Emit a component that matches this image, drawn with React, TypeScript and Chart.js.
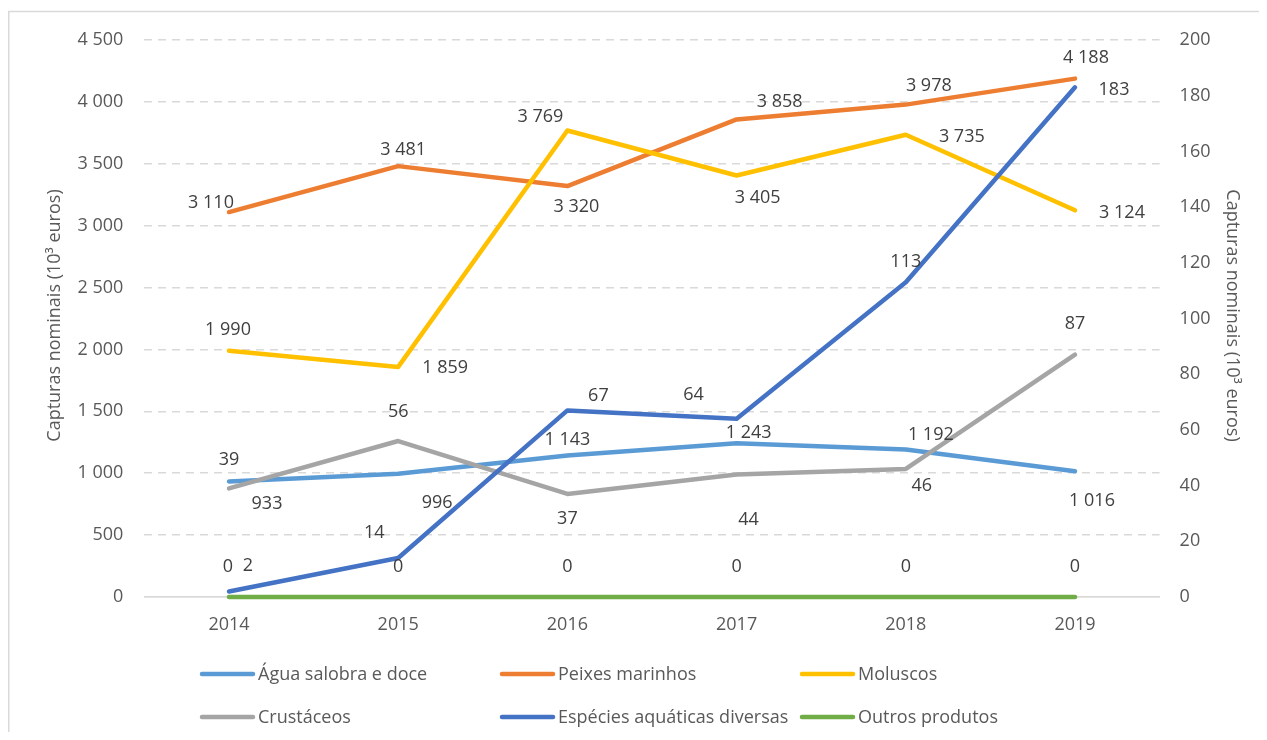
import React, { useEffect, useRef } from "react";
import { Chart, registerables } from "chart.js";

Chart.register(...registerables);

// ---- Data ----
const years = ["2014", "2015", "2016", "2017", "2018", "2019"];
const aguaSalobra = [933, 996, 1143, 1243, 1192, 1016];
const peixesMarinhos = [3110, 3481, 3320, 3858, 3978, 4188];
const moluscos = [1990, 1859, 3769, 3405, 3735, 3124];
const crustaceos = [39, 56, 37, 44, 46, 87];
const especiesDiversas = [2, 14, 67, 64, 113, 183];
const outrosProdutos = [0, 0, 0, 0, 0, 0];

const seriesNames = [
  "Água salobra e doce",
  "Peixes marinhos",
  "Moluscos",
  "Crustáceos",
  "Espécies aquáticas diversas",
  "Outros produtos",
];
const axisTitle = "Capturas nominais (10³ euros)";

// ---- Styling (label placement offsets in px, relative to the point) ----
const labelOffsets = [
  [[38, 21], [39, 28], [0, -17], [12, -12], [25, -16], [17, 28]],
  [[-18, -10], [5, -18], [9, 20], [43, -19], [23, -20], [11, -22]],
  [[-1, -22], [47, 0], [-27, -15], [21, 21], [56, 1], [47, 1]],
  [[0, -30], [0, -30], [0, 24], [12, 44], [16, 16], [0, -32]],
  [[19, -27], [-24, -26], [31, -16], [-43, -25], [0, -22], [39, 1]],
  [[-1, -31], [0, -31], [0, -31], [0, -31], [0, -31], [0, -31]],
];
const colors = ["#5B9BD5", "#ED7D31", "#FFC000", "#A5A5A5", "#4472C4", "#70AD47"];
const axisIds = ["y", "y", "y", "y1", "y1", "y1"];

const FONT = "'Open Sans', sans-serif";
const FS = 18;
const CAP = 0.714 * FS;
const W = 1259;
const H = 724;

function fmt(v: number): string {
  return String(v).replace(/\B(?=(\d{3})+(?!\d))/g, " ");
}

const decorPlugin = {
  id: "decor",
  beforeDraw(chart: any) {
    const ctx = chart.ctx;
    ctx.save();
    ctx.fillStyle = "#ffffff";
    ctx.fillRect(0, 0, chart.width, chart.height);
    ctx.strokeStyle = "#d9d9d9";
    ctx.lineWidth = 1.5;
    ctx.beginPath();
    ctx.moveTo(0.75, chart.height);
    ctx.lineTo(0.75, 3.5);
    ctx.lineTo(chart.width, 3.5);
    ctx.stroke();
    ctx.restore();
  },
  afterDatasetsDraw(chart: any) {
    const ctx = chart.ctx;
    ctx.save();
    ctx.font = `${FS}px ${FONT}`;
    ctx.fillStyle = "#404040";
    ctx.textAlign = "center";
    ctx.textBaseline = "alphabetic";
    chart.data.datasets.forEach((ds: any, i: number) => {
      const meta = chart.getDatasetMeta(i);
      meta.data.forEach((pt: any, j: number) => {
        const [dx, dy] = labelOffsets[i][j];
        ctx.fillText(fmt(ds.data[j]), pt.x + dx, pt.y + dy + CAP / 2);
      });
    });
    ctx.restore();
  },
  afterDraw(chart: any) {
    const ctx = chart.ctx;
    const area = chart.chartArea;
    const midY = (area.top + area.bottom) / 2 - 3;
    ctx.save();
    ctx.font = `${FS}px ${FONT}`;
    ctx.fillStyle = "#595959";
    ctx.textAlign = "center";
    ctx.textBaseline = "middle";
    // left axis title
    ctx.save();
    ctx.translate(47, midY);
    ctx.rotate(-Math.PI / 2);
    ctx.fillText(axisTitle, 0, 0);
    ctx.restore();
    // right axis title
    ctx.save();
    ctx.translate(1224, midY);
    ctx.rotate(Math.PI / 2);
    ctx.fillText(axisTitle, 0, 0);
    ctx.restore();

    // legend
    const colX = [192, 492, 792];
    const rowY = [666, 709];
    ctx.textAlign = "left";
    ctx.textBaseline = "alphabetic";
    seriesNames.forEach((name, i) => {
      const x = colX[i % 3];
      const y = rowY[Math.floor(i / 3)];
      ctx.strokeStyle = colors[i];
      ctx.lineWidth = 4.5;
      ctx.lineCap = "round";
      ctx.beginPath();
      ctx.moveTo(x + 2, y);
      ctx.lineTo(x + 53, y);
      ctx.stroke();
      ctx.fillStyle = "#595959";
      ctx.fillText(name, x + 58, y + CAP / 2);
    });
    ctx.restore();
  },
};

export default function App() {
  const canvasRef = useRef<HTMLCanvasElement | null>(null);

  useEffect(() => {
    const canvas = canvasRef.current;
    if (!canvas) return;
    const seriesData = [aguaSalobra, peixesMarinhos, moluscos, crustaceos, especiesDiversas, outrosProdutos];
    const tickFont = { family: FONT, size: FS };
    const chart = new Chart(canvas, {
      type: "line",
      data: {
        labels: years,
        datasets: seriesData.map((d, i) => ({
          label: seriesNames[i],
          data: d,
          yAxisID: axisIds[i],
          borderColor: colors[i],
          backgroundColor: colors[i],
          borderWidth: 4.5,
          borderCapStyle: "round",
          borderJoinStyle: "round",
          pointRadius: 0,
          tension: 0,
          fill: false,
          clip: false,
          order: 10 - i,
        })),
      },
      options: {
        responsive: false,
        maintainAspectRatio: false,
        animation: false,
        layout: { padding: { top: 32, left: 0, right: 0, bottom: 0 } },
        plugins: {
          legend: { display: false },
          tooltip: { enabled: false },
        },
        scales: {
          x: {
            type: "category",
            offset: true,
            grid: { display: false, drawTicks: false },
            border: { display: true, color: "#d9d9d9", width: 1.5 },
            ticks: { color: "#595959", font: tickFont, padding: 17, maxRotation: 0 },
            afterFit: (s: any) => {
              s.height = 135;
            },
          },
          y: {
            position: "left",
            min: 0,
            max: 4500,
            ticks: {
              stepSize: 500,
              color: "#595959",
              font: tickFont,
              padding: 21,
              callback: (v: any) => fmt(Number(v)),
            },
            grid: { color: "#d9d9d9", lineWidth: 1.5, drawTicks: false },
            border: {
              display: false,
              dash: (c: any) => (c.tick && c.tick.value === 0 ? [] : [8, 6]),
            },
            afterFit: (s: any) => {
              s.width = 136.4;
            },
          },
          y1: {
            position: "right",
            min: 0,
            max: 200,
            ticks: {
              stepSize: 20,
              color: "#595959",
              font: tickFont,
              padding: 20,
            },
            grid: { display: false, drawTicks: false },
            border: { display: false },
            afterFit: (s: any) => {
              s.width = W - 1151.6;
            },
          },
        },
      } as any,
      plugins: [decorPlugin],
    });
    return () => chart.destroy();
  }, []);

  return (
    <div style={{ width: 1251, height: H }}>
      <canvas ref={canvasRef} width={W} height={H} style={{ display: "block", width: W, height: H }} />
    </div>
  );
}
